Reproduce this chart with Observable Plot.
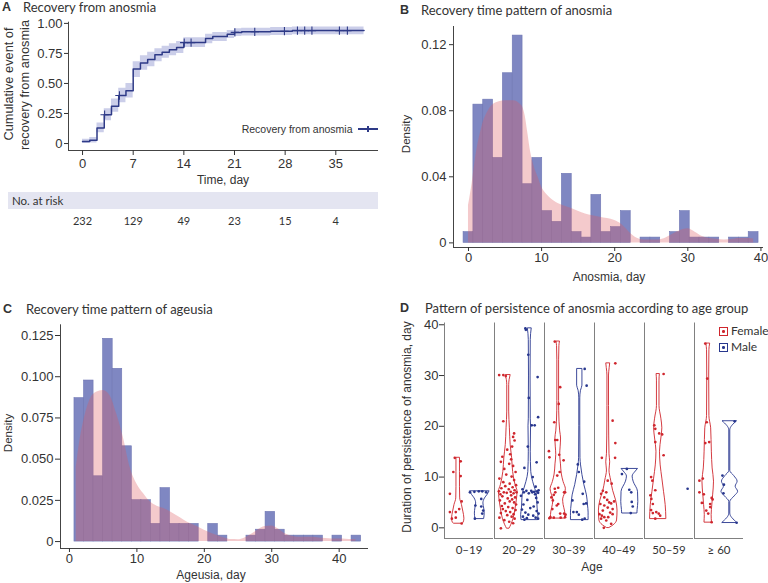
<!DOCTYPE html>
<html>
<head>
<meta charset="utf-8">
<script src="https://cdn.jsdelivr.net/npm/d3@7"></script>
<script src="https://cdn.jsdelivr.net/npm/@observablehq/plot@0.6"></script>
<style>
html,body{margin:0;padding:0;background:#fff;}
#root{position:relative;width:768px;height:583px;overflow:hidden;font-family:Lato,"Noto Sans",sans-serif;color:#333;}
.abs{position:absolute;white-space:nowrap;line-height:1;}
</style>
</head>
<body>
<div id="root"></div>
<script>
// ---------- Panel A: Kaplan–Meier cumulative recovery ----------
const kmDay = [0,1,2,3,4,5,6,7,8,9,10,11,12,13,14,17,18,20,21,22,26,29,38.9];
const kmCum = [0.017,0.028,0.13,0.24,0.31,0.40,0.44,0.62,0.67,0.70,0.74,0.76,0.78,0.80,0.84,0.875,0.89,0.91,0.925,0.93,0.935,0.94,0.94];
const kmLow = [0.0,0.005,0.09,0.19,0.26,0.34,0.38,0.55,0.61,0.64,0.68,0.71,0.73,0.75,0.80,0.83,0.85,0.875,0.89,0.895,0.90,0.905,0.905];
const kmUp  = [0.035,0.05,0.17,0.29,0.37,0.46,0.50,0.68,0.73,0.76,0.79,0.81,0.83,0.85,0.88,0.91,0.925,0.94,0.955,0.96,0.965,0.97,0.97];
const censorDay = [3.05,5.1,14.05,15,21.05,23.8,27.9,29.7,30.7,31.7,35.5,36.6];
const riskDay = [0,7,14,21,28,35];
const riskN = [232,129,49,23,15,4];

// ---------- Panel B: anosmia histogram + density ----------
const anosmiaRange = [0, 39];
const anosmiaDensity = [0.0065,0.0837,0.0867,0.0514,0.1027,0.1255,0.0355,0.0514,0.0192,0.0127,0.0418,0.0065,0.0032,0.029,0.0065,0.0095,0.0192,0,0.0032,0.0032,0,0.0065,0.0192,0.0032,0.0032,0.0032,0,0.0032,0.0032,0.0065];
const anosmiaKdeX = [0,0.5,0.92,1.83,2.74,3.65,5.0,6.15,7.3,7.75,8.1,8.5,9,9.5,10,11,12,13,14,16,18,20,21,22,23,24,26,27,28,29,30,31,32,33,34,35,36,37,38,39];
const anosmiaKdeY = [0.0226,0.036,0.0498,0.070,0.0801,0.0845,0.0861,0.0861,0.083,0.077,0.067,0.055,0.046,0.040,0.034,0.028,0.0245,0.0225,0.021,0.0175,0.0155,0.0135,0.011,0.0065,0.003,0.0018,0.0018,0.003,0.0054,0.0075,0.0085,0.0065,0.0038,0.0026,0.0022,0.0018,0.002,0.0026,0.0026,0.0024];

// ---------- Panel C: ageusia histogram + density ----------
const ageusiaRange = [1.45, 42.55];
const ageusiaDensity = [0.087,0.0977,0.0396,0.123,0.1048,0.0578,0.0251,0.0251,0.0107,0.0324,0.0107,0.0107,0.0107,0,0.0107,0.0036,0,0,0.0036,0.0072,0.018,0.0072,0.0036,0.0036,0.0036,0.0036,0,0.0036,0,0.0036];
const ageusiaKdeX = [1.0,1.5,2,3,4,5,6,7,8,9,10,11,12,13,14,15,16,17,18,19,20,21,22,23,24,25,26,27,28,29,30,31,32,33,34,35,36,37,38,39,40,41,42,42.5];
const ageusiaKdeY = [0.045,0.06,0.071,0.0856,0.0906,0.0916,0.0886,0.0775,0.063,0.045,0.035,0.029,0.024,0.0215,0.02,0.018,0.0155,0.013,0.0108,0.009,0.0068,0.005,0.0036,0.0022,0.0012,0.0011,0.0022,0.0045,0.0071,0.0091,0.0095,0.0077,0.0047,0.0032,0.0026,0.0026,0.0026,0.0022,0.0018,0.0016,0.0016,0.0014,0.0012,0.0012];

// ---------- Panel D: persistence by age group and sex ----------
const ageGroups = ["0–19","20–29","30–39","40–49","50–59","≥ 60"];
const sexes = ["Female","Male"];
const durF0019 = [13.8,13.1,11.0,10.2,6.7,5.2,3.7,3.1,3.1,1.8,2.0,0.85];
const jitF0019 = [-0.07,0.05,-0.10,0.05,-0.17,0.07,0.02,-0.17,-0.05,-0.13,-0.05,0.07];
const durM0019 = [7.0,7.1,7.2,7.2,7.0,5.7,4.4,4.2,3.4,2.8,1.8];
const jitM0019 = [-0.2,-0.11,-0.02,0.05,0.13,0.03,-0.09,0.03,0.07,0.05,-0.1];
const durF2029 = [30.1,30.1,29.9,21.0,18.6,17.9,17.2,16.0,15.4,14.5,14.0,13.5,13.0,12.6,12.2,11.6,11.0,10.5,10.1,9.7,9.4,9.0,8.7,8.4,8.2,8.0,7.8,7.6,7.4,7.2,7.1,7.0,7.0,6.9,6.8,6.6,6.4,6.2,6.0,5.8,5.6,5.4,5.2,5.0,4.8,4.6,4.3,4.1,3.9,3.7,3.5,3.3,3.1,2.9,2.7,2.5,2.2,2.0,1.8,1.5,1.2,0.9,-0.1];
const jitF2029 = [-0.185,-0.10,-0.05,-0.10,0.12,0.10,0.13,0.08,-0.02,0.04,-0.12,0.06,-0.15,0.02,0.10,-0.08,0.15,-0.04,0.07,-0.18,0.12,-0.10,0.03,0.16,-0.06,0.09,-0.14,0.01,0.13,-0.19,0.05,-0.09,0.17,-0.03,0.11,-0.16,0.06,-0.12,0.14,-0.01,0.08,-0.17,0.03,0.12,-0.07,0.16,-0.13,0.00,0.09,-0.11,0.15,-0.05,0.04,-0.15,0.11,-0.02,0.07,-0.18,0.13,-0.08,0.02,0.10,-0.15];
const durM2029 = [39.3,39.0,34.1,29.7,25.6,21.8,20.2,20.2,16.0,12.9,11.8,10.0,8.1,7.6,7.4,7.3,7.3,7.2,7.1,7.0,7.0,6.9,6.8,6.6,6.3,5.9,5.5,5.0,4.6,4.2,3.9,3.6,3.3,3.0,2.8,2.6,2.4,2.2,2.0,1.9,1.8,1.6];
const jitM2029 = [-0.09,-0.08,-0.03,0.16,-0.02,0.17,0.04,0.10,-0.04,0.14,-0.11,0.06,0.12,-0.15,0.18,0.03,-0.07,0.15,0.09,-0.12,0.05,0.17,-0.02,0.11,-0.18,0.13,-0.05,0.16,-0.13,0.08,0.01,-0.16,0.14,-0.09,0.18,-0.03,0.07,-0.14,0.12,-0.06,0.17,-0.11];
const durF3039 = [36.7,27.7,24.4,20.8,17.3,17.3,15.1,13.9,14.4,13.3,10.3,11.0,7.7,7.0,7.0,7.0,6.0,4.7,3.7,2.8,1.9,2.1,2.8,6.5,5.4,4.4,2.1,2.0,2.0,2.6,7.9];
const jitF3039 = [-0.07,0.04,0.01,-0.08,-0.06,-0.02,-0.19,-0.18,0.02,0.11,-0.02,0.03,-0.07,-0.06,0.12,0.14,-0.14,0.0,-0.12,0.04,-0.18,0.14,0.12,-0.09,-0.11,-0.03,-0.16,-0.09,0.05,0.15,0.0];
const durM3039 = [31.3,28.0,12.5,11.0,9.1,6.7,5.4,4.8,4.7,3.1,3.1,2.6,1.8,1.6];
const jitM3039 = [0.10,0.14,-0.04,-0.02,0.09,0.06,-0.15,0.13,0.08,-0.13,-0.06,-0.02,0.10,0.05];
const durF4049 = [32.4,21.1,16.7,13.8,13.8,9.3,8.7,7.3,7.0,6.7,6.0,5.5,5.0,4.8,4.7,4.4,4.0,3.7,3.4,2.7,2.4,2.1,2.1,2.7,1.8,1.45,0.8,0.0,5.2,3.0];
const jitF4049 = [0.145,0.09,0.145,-0.13,0.14,-0.01,0.07,-0.11,-0.04,-0.145,-0.08,-0.02,0.02,0.06,-0.16,-0.08,-0.01,0.09,-0.11,-0.18,-0.13,-0.08,0.0,0.09,-0.145,-0.04,0.06,-0.09,0.12,0.04];
const durM4049 = [11.6,10.6,7.5,7.0,5.1,4.2,2.9];
const jitM4049 = [-0.06,-0.16,-0.01,0.03,0.04,0.06,0.02];
const durF5059 = [30.3,20.2,19.5,18.6,18.4,16.9,14.3,10.0,9.3,7.4,6.4,5.7,4.7,3.5,3.1,2.9,2.8,2.4,1.8];
const jitF5059 = [0.11,-0.08,-0.06,0.02,0.08,-0.06,0.11,-0.145,-0.12,-0.06,-0.16,-0.14,-0.11,-0.145,-0.04,-0.11,0.01,0.04,-0.06];
const durM5059 = [7.7];
const jitM5059 = [0.16];
const durF60 = [36.3,29.4,20.8,16.9,16.7,9.7,9.3,7.0,6.6,5.9,5.6,4.9,4.7,4.1,3.4,2.8,1.1];
const jitF60 = [-0.06,-0.02,-0.03,0.02,-0.06,-0.11,-0.18,-0.18,-0.09,0.07,0.09,-0.13,0.04,0.04,-0.04,0.0,0.07];
const durM60 = [21.0,10.3,8.5,6.8,1.0];
const jitM60 = [0.10,-0.15,-0.12,-0.13,0.14];

// violin outlines: [duration, relative density width]
const violinF0019 = [[0.85,0.45],[1.0,0.55],[1.8,0.63],[3.2,0.52],[4.5,0.38],[5.8,0.2],[8,0.18],[11,0.18],[13.8,0.18]];
const violinM0019 = [[1.8,0.45],[2.8,0.5],[3.8,0.45],[4.8,0.37],[5.8,0.53],[6.5,0.8],[7.2,1.0]];
const violinF2029 = [[-0.1,0.15],[0.5,0.3],[1.8,0.55],[3.8,0.75],[5.8,0.9],[7.1,0.95],[8.4,0.75],[11,0.5],[13.7,0.4],[16.3,0.25],[19.6,0.17],[22.9,0.1],[28.1,0.1],[29.1,0.14],[30.1,0.25]];
const violinM2029 = [[1.6,0.85],[2.5,0.88],[3.8,0.8],[5.8,0.75],[6.8,0.7],[7.7,0.55],[9,0.35],[11,0.15],[15,0.1],[20,0.13],[21.5,0.1],[30,0.08],[37,0.1],[39.3,0.2]];
const violinF3039 = [[1.9,0.75],[3.2,0.7],[4.5,0.55],[5.6,0.5],[6.5,0.65],[7.6,0.78],[9,0.55],[10.5,0.37],[12.5,0.28],[14.4,0.2],[16,0.25],[17.6,0.29],[19,0.2],[20.9,0.13],[25,0.09],[33,0.09],[35.8,0.12],[36.7,0.18]];
const violinM3039 = [[1.6,0.9],[3,0.9],[4.4,0.84],[6.4,0.73],[8.4,0.47],[10.4,0.27],[12.3,0.13],[13.7,0.07],[20,0.05],[25.5,0.05],[27,0.12],[28,0.27],[31.3,0.27]];
const violinF4049 = [[0.0,0.15],[0.5,0.55],[1.45,0.9],[3.4,0.95],[5.4,0.8],[7.3,0.5],[9.3,0.3],[11.3,0.13],[12.9,0.2],[14.5,0.13],[18,0.1],[24,0.08],[30,0.08],[31.5,0.15],[32.4,0.2]];
const violinM4049 = [[2.9,0.78],[3.5,0.8],[5.1,0.87],[7.1,0.84],[9.1,0.39],[10.1,0.29],[11.1,0.62],[11.6,0.84]];
const violinF5059 = [[1.8,0.83],[4.5,0.76],[7.1,0.59],[9.7,0.42],[12.3,0.25],[15,0.18],[17.6,0.32],[19.6,0.42],[21.5,0.32],[24,0.13],[29,0.13],[30.3,0.17]];
const violinF60 = [[1.1,0.38],[2.5,0.35],[4.5,0.42],[6.4,0.5],[9.1,0.59],[11.7,0.45],[15,0.37],[19.6,0.3],[22,0.12],[30,0.1],[35,0.12],[36.3,0.2]];
const violinM60 = [[1.0,0.74],[2.8,0.05],[5.1,0.05],[6.2,0.5],[7.1,0.85],[8.1,0.6],[9.1,0.8],[10.2,0.45],[11.2,0.05],[19.2,0.05],[21.0,0.74]];

// ---------- assemble tables ----------
const km = kmDay.map((d,i)=>({day:d, cum:kmCum[i], low:kmLow[i], up:kmUp[i]}));
const kmAt = t => { let v = kmCum[0]; kmDay.forEach((d,i)=>{ if (d <= t) v = kmCum[i]; }); return v; };
const censor = censorDay.map(d=>({day:d, cum:kmAt(d)}));
const risk = riskDay.map((d,i)=>({day:d, n:String(riskN[i])}));

function bins(range, dens){
  const bw = (range[1]-range[0])/(dens.length-1);
  return dens.map((d,i)=>({x1: range[0]-bw/2+i*bw, x2: range[0]+bw/2+i*bw, d})).filter(b=>b.d>0);
}
const binsB = bins(anosmiaRange, anosmiaDensity);
const kdeB = anosmiaKdeX.map((x,i)=>({x, y:anosmiaKdeY[i]}));
const binsC = bins(ageusiaRange, ageusiaDensity);
const kdeC = ageusiaKdeX.map((x,i)=>({x, y:ageusiaKdeY[i]}));

const groupData = [
  ["0–19","Female",durF0019,jitF0019,violinF0019],["0–19","Male",durM0019,jitM0019,violinM0019],
  ["20–29","Female",durF2029,jitF2029,violinF2029],["20–29","Male",durM2029,jitM2029,violinM2029],
  ["30–39","Female",durF3039,jitF3039,violinF3039],["30–39","Male",durM3039,jitM3039,violinM3039],
  ["40–49","Female",durF4049,jitF4049,violinF4049],["40–49","Male",durM4049,jitM4049,violinM4049],
  ["50–59","Female",durF5059,jitF5059,violinF5059],["50–59","Male",durM5059,jitM5059,null],
  ["≥ 60","Female",durF60,jitF60,violinF60],["≥ 60","Male",durM60,jitM60,violinM60]
];
const points = [], violinRows = [];
groupData.forEach(([age,sex,dur,jit,vio])=>{
  dur.forEach((v,i)=>points.push({age, sex, v, j: jit[i] || 0}));
  if (vio) vio.forEach(([v,w])=>violinRows.push({age, sex, v, w}));
});

// ---------- layout ----------
const root = document.getElementById("root");
const COL_F = "#cf262d", COL_M = "#28378e", NAVY = "#2e3a87";
const SANS = '"Liberation Sans", Arial, sans-serif';
const plotStyle = {fontFamily:SANS, fontSize:"13px", color:"#333", background:"transparent", overflow:"visible"};
function place(el, left, top){
  const d = document.createElement("div");
  d.style.cssText = `position:absolute;left:${left}px;top:${top}px;`;
  d.appendChild(el); root.appendChild(d); return d;
}
function txt(s, x, y, o={}){
  const d = document.createElement("div");
  d.className = "abs"; d.textContent = s;
  d.style.left = x+"px"; d.style.top = y+"px";
  d.style.fontSize = (o.size||12.5)+"px";
  d.style.fontWeight = o.weight||400;
  if (o.family) d.style.fontFamily = o.family;
  d.style.color = o.color||"#333";
  const tx = o.anchor==="start" ? "0" : o.anchor==="end" ? "-100%" : "-50%";
  d.style.transform = `translate(${tx},-50%)` + (o.rotate ? " rotate(-90deg)" : "");
  root.appendChild(d); return d;
}
const f2 = d => d===0 ? "0" : d.toFixed(2);
const f3 = d => d===0 ? "0" : d.toFixed(3);

// at-risk band (behind)
const band = document.createElement("div");
band.style.cssText = "position:absolute;left:8px;top:192px;width:370px;height:17px;background:#e4e5f1;";
root.appendChild(band);

// Panel A
const xDomA = [-1.94, 40.9], yDomA = [-0.058, 1.01];
place(Plot.plot({
  width:384, height:232, marginLeft:68, marginRight:6, marginTop:21.7, marginBottom:82,
  style: plotStyle,
  x:{domain:xDomA}, y:{domain:yDomA},
  marks:[
    Plot.areaY(km,{x:"day", y1:"low", y2:"up", curve:"step-after", fill:"#cbcee9"}),
    Plot.line(km,{x:"day", y:"cum", curve:"step-after", stroke:NAVY, strokeWidth:1.5}),
    Plot.dot(censor,{x:"day", y:"cum", symbol:"plus", r:2.8, stroke:NAVY, strokeWidth:1.1}),
    Plot.ruleY([yDomA[0]],{stroke:"#444"}),
    Plot.ruleX([xDomA[0]],{stroke:"#444"}),
    Plot.axisX({ticks:riskDay, tickSize:5, tickPadding:3, label:null}),
    Plot.axisY({ticks:[0,0.25,0.5,0.75,1], tickFormat:f2, tickSize:4, tickPadding:2, label:null}),
    Plot.text(risk,{x:"day", y:()=>yDomA[0], dy:71, text:"n", fontFamily:"Lato", fontSize:11, fill:"#333"})
  ]
}), 0, 0);

// Panel B
const xDomB = [-2.05, 40.35], yDomB = [-0.0028, 0.131];
place(Plot.plot({
  width:384, height:290, marginLeft:69, marginRight:5, marginTop:26, marginBottom:43,
  style: plotStyle,
  x:{domain:xDomB}, y:{domain:yDomB},
  marks:[
    Plot.rectY(binsB,{x1:"x1", x2:"x2", y:"d", fill:"#7f87c2", stroke:"#6e76b3", strokeWidth:0.6}),
    Plot.areaY(kdeB,{x:"x", y:"y", fill:"#dc5a60", fillOpacity:0.32, curve:"monotone-x"}),
    Plot.ruleY([yDomB[0]],{stroke:"#444"}),
    Plot.ruleX([xDomB[0]],{stroke:"#444"}),
    Plot.axisX({ticks:[0,10,20,30,40], tickSize:4, tickPadding:1, label:null}),
    Plot.axisY({ticks:[0,0.04,0.08,0.12], tickFormat:f2, tickSize:4, tickPadding:3, label:null})
  ]
}), 384, 0);

// Panel C
const xDomC = [-1.33, 44.35], yDomC = [-0.0042, 0.1315];
place(Plot.plot({
  width:384, height:293, marginLeft:60, marginRight:16, marginTop:34.3, marginBottom:35,
  style: plotStyle,
  x:{domain:xDomC}, y:{domain:yDomC},
  marks:[
    Plot.rectY(binsC,{x1:"x1", x2:"x2", y:"d", fill:"#7f87c2", stroke:"#6e76b3", strokeWidth:0.6}),
    Plot.areaY(kdeC,{x:"x", y:"y", fill:"#dc5a60", fillOpacity:0.32, curve:"monotone-x"}),
    Plot.ruleY([yDomC[0]],{stroke:"#444"}),
    Plot.ruleX([xDomC[0]],{stroke:"#444"}),
    Plot.axisX({ticks:[0,10,20,30,40], tickSize:4, tickPadding:1, label:null}),
    Plot.axisY({ticks:[0,0.025,0.05,0.075,0.1,0.125], tickFormat:f3, tickSize:5, tickPadding:2, label:null})
  ]
}), 0, 290);

// Panel D
const sexPos = {Female:0.28, Male:0.72};
const VW = 0.2;
const yDomD = [-2.1, 40.35];
place(Plot.plot({
  width:384, height:293, marginLeft:60, marginRight:25, marginTop:32.5, marginBottom:45,
  style: plotStyle,
  fx:{domain:ageGroups, paddingInner:0.03, paddingOuter:0},
  x:{domain:[0,1], axis:null},
  y:{domain:yDomD},
  color:{domain:sexes, range:[COL_F, COL_M]},
  marks:[
    Plot.ruleX([0],{stroke:"#808080"}),
    Plot.ruleY([yDomD[0]],{stroke:"#808080"}),
    Plot.areaX(violinRows,{fx:"age", y:"v", x1:d=>sexPos[d.sex]-d.w*VW, x2:d=>sexPos[d.sex]+d.w*VW, z:"sex", stroke:"sex", fill:"none", strokeWidth:0.9, curve:"monotone-y"}),
    Plot.dot(points,{fx:"age", x:d=>sexPos[d.sex]+d.j, y:"v", fill:"sex", r:1.35}),
    Plot.axisY({ticks:[0,10,20,30,40], tickSize:5, tickPadding:1, label:null}),
    Plot.axisFx({anchor:"bottom", tickSize:0, tickPadding:7, label:null, fontFamily:"Lato", fontSize:11.5})
  ]
}), 384, 290);

// ---------- titles & axis titles ----------
const TS = 13;
txt("A", 2, 7, {anchor:"start", weight:700, size:12.5, family:SANS});
txt("Recovery from anosmia", 23, 7, {anchor:"start", size:TS});
txt("B", 400, 9.5, {anchor:"start", weight:700, size:12.5, family:SANS});
txt("Recovery time pattern of anosmia", 421, 9.5, {anchor:"start", size:TS});
txt("C", 3, 308.5, {anchor:"start", weight:700, size:12.5, family:SANS});
txt("Recovery time pattern of ageusia", 26, 308.5, {anchor:"start", size:TS});
txt("D", 400, 308, {anchor:"start", weight:700, size:12.5, family:SANS});
txt("Pattern of persistence of anosmia according to age group", 425, 308, {anchor:"start", size:TS});

txt("Cumulative event of", 8.5, 84, {rotate:true, size:12.8, family:SANS});
txt("recovery from anosmia", 25, 85, {rotate:true, size:12.8, family:SANS});
txt("Time, day", 223, 180, {size:12, family:SANS});
txt("No. at risk", 12, 201, {anchor:"start", size:11.5});
txt("Recovery from anosmia", 352.5, 129, {anchor:"end", size:10.5, family:SANS});
// legend key for A
const keyA = document.createElement("div");
keyA.style.cssText = "position:absolute;left:358px;top:128.3px;width:20px;height:1.6px;background:"+NAVY+";";
root.appendChild(keyA);
const keyA2 = document.createElement("div");
keyA2.style.cssText = "position:absolute;left:367.4px;top:126px;width:1.2px;height:6px;background:"+NAVY+";";
root.appendChild(keyA2);

txt("Density", 406.5, 134, {rotate:true, size:11.5, family:SANS});
txt("Anosmia, day", 609, 276.5, {size:12, family:SANS});
txt("Density", 8.5, 432.5, {rotate:true, size:11.5, family:SANS});
txt("Ageusia, day", 211, 575, {size:12, family:SANS});
txt("Age", 592, 566.5, {size:12, family:SANS});
txt("Duration of persistence of anosmia, day", 407, 426.5, {rotate:true, size:12, family:SANS});

// legend D
[["Female",COL_F,331],["Male",COL_M,347]].forEach(([lab,col,y])=>{
  const sq = document.createElement("div");
  sq.style.cssText = `position:absolute;left:719px;top:${y-4}px;width:6.5px;height:6.5px;border:1px solid ${col};`;
  const dot = document.createElement("div");
  dot.style.cssText = `position:absolute;left:2px;top:2px;width:2.5px;height:2.5px;border-radius:50%;background:${col};`;
  sq.appendChild(dot); root.appendChild(sq);
  txt(lab, 731, y, {anchor:"start", size:12});
});
</script>
</body>
</html>
